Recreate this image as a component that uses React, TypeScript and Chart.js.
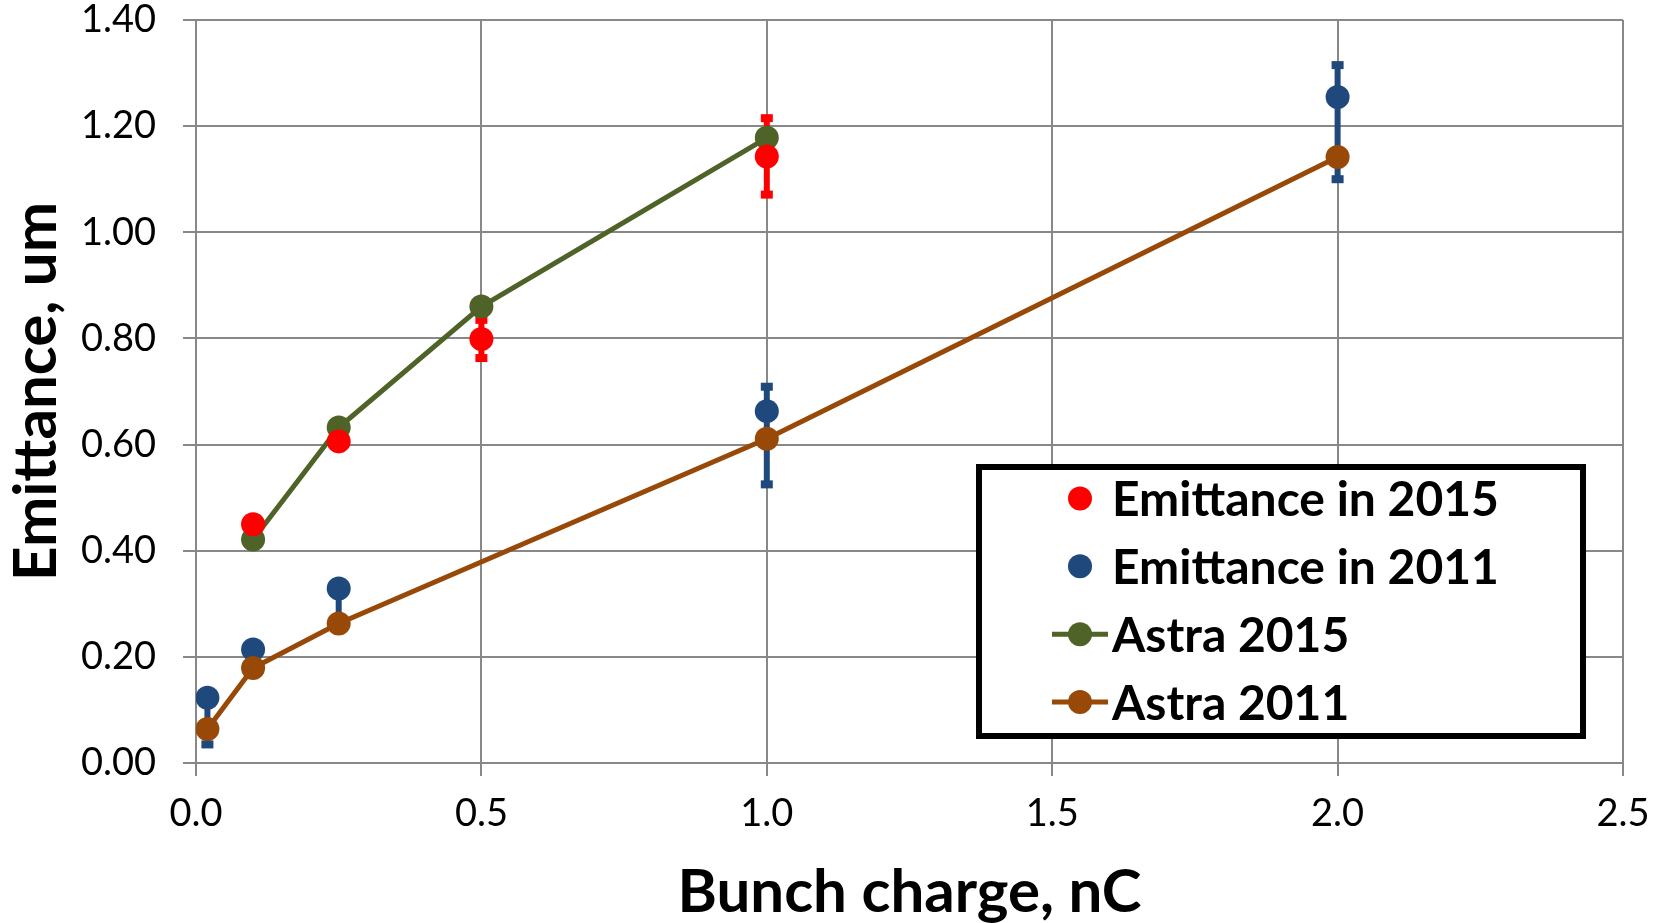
import React, { useEffect, useRef } from "react";
import { Chart, registerables } from "chart.js";

Chart.register(...registerables);

// ---- data ----
const xEm2015 = [0.1, 0.25, 0.5, 1.0];
const yEm2015 = [0.45, 0.606, 0.799, 1.143];
const errEm2015Plus = [0.006, 0.006, 0.036, 0.072];
const errEm2015Minus = [0.006, 0.006, 0.036, 0.072];

const xEm2011 = [0.02, 0.1, 0.25, 1.0, 2.0];
const yEm2011 = [0.123, 0.214, 0.329, 0.663, 1.255];
const errEm2011Plus = [0.006, 0.006, 0.006, 0.046, 0.06];
const errEm2011Minus = [0.088, 0.04, 0.065, 0.138, 0.155];

const xAstra2015 = [0.1, 0.25, 0.5, 1.0];
const yAstra2015 = [0.421, 0.632, 0.86, 1.178];

const xAstra2011 = [0.02, 0.1, 0.25, 1.0, 2.0];
const yAstra2011 = [0.064, 0.179, 0.263, 0.611, 1.142];

const seriesLabels = ["Emittance in 2015", "Emittance in 2011", "Astra 2015", "Astra 2011"];
const xTitle = "Bunch charge, nC";
const yTitle = "Emittance, um";

const RED = "#FF0000";
const BLUE = "#1F497D";
const GREEN = "#4F6228";
const ORANGE = "#984807";
const GRID = "#888888";
const FONT = "Lato";

const pts = (xs: number[], ys: number[]) => xs.map((x, i) => ({ x, y: ys[i] }));

const errorBarPlugin = {
  id: "errorBars",
  beforeDatasetsDraw(chart: any) {
    const ctx = chart.ctx;
    const xs = chart.scales.x;
    const ys = chart.scales.y;
    chart.data.datasets.forEach((ds: any) => {
      if (!ds.errPlus) return;
      ctx.save();
      ctx.strokeStyle = ds.backgroundColor;
      ctx.fillStyle = ds.backgroundColor;
      ctx.lineWidth = 6;
      ctx.lineCap = "butt";
      ds.data.forEach((p: any, i: number) => {
        const px = xs.getPixelForValue(p.x);
        const top = ys.getPixelForValue(p.y + ds.errPlus[i]);
        const bot = ys.getPixelForValue(p.y - ds.errMinus[i]);
        ctx.beginPath();
        ctx.moveTo(px, top);
        ctx.lineTo(px, bot);
        ctx.stroke();
        ctx.fillRect(px - 6, top - 4, 12, 8);
        ctx.fillRect(px - 6, bot - 4, 12, 8);
      });
      ctx.restore();
    });
  },
};

const legendPlugin = {
  id: "boxLegend",
  afterDraw(chart: any) {
    const ctx = chart.ctx;
    ctx.save();
    ctx.fillStyle = "#FFFFFF";
    ctx.strokeStyle = "#000000";
    ctx.lineWidth = 6;
    ctx.fillRect(979, 467, 604, 269);
    ctx.strokeRect(979, 467, 604, 269);
    const rows = [498.5, 566.3, 634.2, 702.1];
    const colors = [RED, BLUE, GREEN, ORANGE];
    const withLine = [false, false, true, true];
    rows.forEach((cy, i) => {
      if (withLine[i]) {
        ctx.strokeStyle = colors[i];
        ctx.lineWidth = 5;
        ctx.beginPath();
        ctx.moveTo(1052, cy);
        ctx.lineTo(1108, cy);
        ctx.stroke();
      }
      ctx.fillStyle = colors[i];
      ctx.beginPath();
      ctx.arc(1080, cy, 12, 0, Math.PI * 2);
      ctx.fill();
      ctx.fillStyle = "#000000";
      ctx.font = `bold 48px ${FONT}`;
      ctx.textAlign = "left";
      ctx.textBaseline = "middle";
      ctx.fillText(seriesLabels[i], 1112, cy + 2);
    });
    ctx.restore();
  },
};

export default function App() {
  const ref = useRef<HTMLCanvasElement | null>(null);
  useEffect(() => {
    if (!ref.current) return;
    const chart = new Chart(ref.current, {
      type: "scatter",
      data: {
        datasets: [
          {
            label: seriesLabels[0],
            data: pts(xEm2015, yEm2015),
            backgroundColor: RED,
            borderColor: RED,
            pointRadius: 12,
            pointBorderWidth: 0,
            showLine: false,
            order: 3,
            errPlus: errEm2015Plus,
            errMinus: errEm2015Minus,
          } as any,
          {
            label: seriesLabels[1],
            data: pts(xEm2011, yEm2011),
            backgroundColor: BLUE,
            borderColor: BLUE,
            pointRadius: 12,
            pointBorderWidth: 0,
            showLine: false,
            order: 2,
            errPlus: errEm2011Plus,
            errMinus: errEm2011Minus,
          } as any,
          {
            label: seriesLabels[2],
            data: pts(xAstra2015, yAstra2015),
            backgroundColor: GREEN,
            borderColor: GREEN,
            borderWidth: 5,
            pointRadius: 12,
            pointBorderWidth: 0,
            showLine: true,
            order: 4,
          },
          {
            label: seriesLabels[3],
            data: pts(xAstra2011, yAstra2011),
            backgroundColor: ORANGE,
            borderColor: ORANGE,
            borderWidth: 5,
            pointRadius: 12,
            pointBorderWidth: 0,
            showLine: true,
            order: 1,
          },
        ],
      },
      options: {
        animation: false,
        responsive: false,
        devicePixelRatio: 1,
        layout: { padding: { top: 20, right: 40, left: 0, bottom: 0 } },
        plugins: { legend: { display: false }, tooltip: { enabled: false } },
        scales: {
          x: {
            type: "linear",
            min: 0,
            max: 2.5,
            ticks: {
              stepSize: 0.5,
              padding: 15,
              color: "#000",
              font: { family: FONT, size: 38 },
              callback: (v: any) => Number(v).toFixed(1),
            },
            grid: { color: GRID, lineWidth: 2, tickLength: 13, tickColor: GRID },
            border: { color: GRID, width: 2 },
            title: {
              display: true,
              text: xTitle,
              color: "#000",
              font: { family: FONT, size: 60, weight: "bold", lineHeight: 1 },
              padding: { top: 0, bottom: 0 },
            },
            afterFit: (s: any) => {
              s.height = 160;
              s.paddingLeft = 0;
              s.paddingRight = 0;
            },
          },
          y: {
            type: "linear",
            min: 0,
            max: 1.4,
            ticks: {
              stepSize: 0.2,
              padding: 27,
              color: "#000",
              font: { family: FONT, size: 38 },
              callback: (v: any) => Number(v).toFixed(2),
            },
            grid: { color: GRID, lineWidth: 2, tickLength: 13, tickColor: GRID },
            border: { color: GRID, width: 2 },
            title: {
              display: true,
              text: yTitle,
              color: "#000",
              font: { family: FONT, size: 60, weight: "bold", lineHeight: 1 },
              padding: { top: 7, bottom: 0 },
            },
            afterFit: (s: any) => {
              s.width = 196;
              s.paddingTop = 0;
              s.paddingBottom = 0;
            },
          },
        },
      },
      plugins: [errorBarPlugin, legendPlugin],
    } as any);
    return () => chart.destroy();
  }, []);
  return (
    <div style={{ position: "absolute", left: 0, top: 0, width: 1663, height: 923, background: "#fff" }}>
      <canvas ref={ref} width={1663} height={923} />
    </div>
  );
}
